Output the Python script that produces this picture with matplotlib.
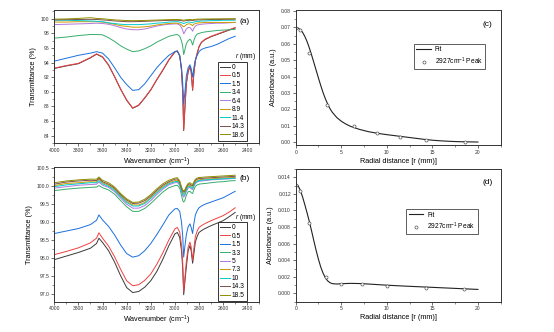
import matplotlib
matplotlib.use("Agg")
import matplotlib.pyplot as plt
from matplotlib.ticker import MultipleLocator, FormatStrFormatter

plt.rcParams['font.family'] = ['Liberation Sans', 'DejaVu Sans']
plt.rcParams['mathtext.fontset'] = 'custom'
plt.rcParams['mathtext.rm'] = 'Liberation Sans'
plt.rcParams['mathtext.it'] = 'Liberation Sans:italic'

COLORS = ['#3a3a3a', '#F14040', '#1A6FDF', '#37AD6B', '#B177DE',
          '#CC9900', '#00CBCC', '#7D4E4E', '#8E8E00']

# ---------------- panel (a) ----------------
wn_a = [4000, 3900, 3800, 3700, 3650, 3600, 3550, 3500, 3450, 3400, 3350, 3300,
        3250, 3200, 3150, 3100, 3050, 3000, 2980, 2960, 2945, 2935, 2927, 2918,
        2905, 2890, 2875, 2865, 2853, 2843, 2830, 2815, 2800, 2780, 2750, 2700,
        2650, 2600, 2550, 2500]
r_a = ['0', '0.5', '1.5', '3.4', '6.4', '8.9', '11.4', '14.3', '18.6']
t_a_0 = [93.2, 93.55, 93.85, 94.65, 95.15, 94.75, 93.65, 92.05, 90.35, 88.85, 87.75, 88.15,
         89.15, 90.25, 91.65, 92.95, 94.35, 95.45, 95.55, 94.95, 92.9, 89.9, 84.7, 87.4,
         91.1, 92.75, 93.45, 92.75, 90.2, 92.45, 94.25, 95.25, 96.15, 96.75, 97.15, 97.55,
         97.85, 98.15, 98.45, 98.75]
t_a_05 = [93.25, 93.6, 93.9, 94.7, 95.2, 94.8, 93.7, 92.1, 90.4, 88.9, 87.8, 88.2,
          89.2, 90.3, 91.7, 93.0, 94.4, 95.5, 95.6, 95.0, 93.0, 90.0, 84.8, 87.5,
          91.2, 92.8, 93.5, 92.8, 90.3, 92.5, 94.3, 95.3, 96.2, 96.8, 97.2, 97.6,
          97.9, 98.2, 98.5, 98.8]
t_a_15 = [94.2, 94.6, 95.0, 95.3, 95.5, 95.3, 94.5, 93.3, 92.0, 91.0, 90.2, 90.3,
          91.1, 92.2, 93.3, 94.2, 95.0, 95.5, 95.6, 94.9, 93.4, 91.2, 88.3, 89.8,
          92.2, 93.3, 93.7, 93.2, 92.0, 93.3, 94.4, 95.0, 95.5, 95.8, 96.0, 96.2,
          96.5, 96.9, 97.3, 97.6]
t_a_34 = [97.35, 97.5, 97.7, 97.85, 97.85, 97.8, 97.4, 96.9, 96.3, 95.85, 95.5, 95.6,
          95.9, 96.3, 96.8, 97.2, 97.6, 97.8, 97.85, 97.6, 97.0, 96.2, 95.1, 95.7,
          96.6, 97.0, 97.2, 97.0, 96.4, 97.0, 97.6, 97.9, 98.0, 98.1, 98.2, 98.3,
          98.4, 98.45, 98.5, 98.55]
t_a_64 = [99.2, 99.25, 99.3, 99.35, 99.4, 99.35, 99.25, 99.05, 98.8, 98.6, 98.5, 98.5,
          98.6, 98.8, 99.0, 99.15, 99.25, 99.3, 99.3, 99.15, 98.8, 98.4, 97.95, 98.2,
          98.6, 98.8, 98.8, 98.6, 98.3, 98.7, 99.0, 99.15, 99.2, 99.25, 99.3, 99.35,
          99.4, 99.4, 99.45, 99.5]
t_a_89 = [99.55, 99.55, 99.6, 99.6, 99.6, 99.55, 99.4, 99.25, 99.05, 98.95, 98.85, 98.85,
          98.9, 99.0, 99.15, 99.25, 99.35, 99.4, 99.4, 99.3, 99.15, 99.0, 98.9, 99.0,
          99.2, 99.3, 99.3, 99.2, 99.05, 99.25, 99.35, 99.4, 99.45, 99.45, 99.5, 99.5,
          99.5, 99.5, 99.5, 99.5]
t_a_114 = [99.8, 99.8, 99.75, 99.7, 99.65, 99.6, 99.45, 99.35, 99.25, 99.2, 99.2, 99.2,
           99.25, 99.3, 99.4, 99.45, 99.55, 99.6, 99.6, 99.55, 99.45, 99.4, 99.35, 99.4,
           99.5, 99.55, 99.55, 99.5, 99.45, 99.55, 99.6, 99.65, 99.65, 99.7, 99.7, 99.75,
           99.75, 99.8, 99.8, 99.8]
t_a_143 = [99.85, 99.87, 99.9, 99.92, 99.9, 99.85, 99.78, 99.7, 99.65, 99.6, 99.6, 99.62,
           99.65, 99.68, 99.72, 99.75, 99.78, 99.8, 99.8, 99.78, 99.74, 99.71, 99.68, 99.72,
           99.76, 99.78, 99.8, 99.78, 99.76, 99.8, 99.82, 99.84, 99.85, 99.86, 99.88, 99.9,
           99.9, 99.92, 99.93, 99.95]
t_a_186 = [99.95, 99.98, 100.05, 100.15, 100.05, 100.0, 99.92, 99.85, 99.8, 99.76, 99.74, 99.75,
           99.77, 99.8, 99.82, 99.85, 99.88, 99.9, 99.9, 99.88, 99.85, 99.83, 99.8, 99.83,
           99.86, 99.88, 99.9, 99.88, 99.86, 99.9, 99.92, 99.94, 99.95, 99.96, 99.97, 99.98,
           99.99, 100.0, 100.0, 100.02]

# ---------------- panel (b) ----------------
wn_b = [4000, 3900, 3800, 3700, 3650, 3630, 3600, 3550, 3500, 3450, 3400, 3350, 3300,
        3250, 3200, 3150, 3100, 3050, 3000, 2980, 2960, 2945, 2935, 2927, 2918,
        2905, 2890, 2875, 2865, 2853, 2843, 2830, 2815, 2800, 2780, 2750, 2700,
        2650, 2600, 2550, 2500]
r_b = ['0', '0.5', '1.5', '3.3', '5', '7.3', '10', '14.3', '18.5']
t_b_0 = [97.95, 98.05, 98.15, 98.27, 98.4, 98.55, 98.43, 98.2, 97.88, 97.5, 97.17, 97.03, 97.06,
         97.18, 97.36, 97.62, 97.96, 98.34, 98.67, 98.71, 98.57, 98.2, 97.7, 96.97, 97.3,
         97.75, 98.2, 98.34, 98.2, 97.85, 98.1, 98.45, 98.6, 98.71, 98.76, 98.82, 98.9,
         98.97, 99.04, 99.15, 99.27]
t_b_05 = [98.09, 98.18, 98.28, 98.42, 98.55, 98.7, 98.55, 98.33, 98.03, 97.68, 97.36, 97.22, 97.25,
          97.37, 97.55, 97.82, 98.14, 98.5, 98.81, 98.85, 98.72, 98.35, 97.85, 97.05, 97.4,
          97.9, 98.3, 98.44, 98.3, 97.93, 98.25, 98.6, 98.75, 98.85, 98.9, 98.96, 99.04,
          99.11, 99.18, 99.28, 99.4]
t_b_15 = [98.68, 98.75, 98.82, 98.93, 99.05, 99.2, 99.06, 98.88, 98.64, 98.36, 98.12, 98.02, 98.06,
          98.2, 98.4, 98.65, 98.92, 99.2, 99.37, 99.38, 99.3, 99.0, 98.6, 98.02, 98.3,
          98.65, 98.87, 98.95, 98.85, 98.68, 98.95, 99.2, 99.32, 99.4, 99.45, 99.5, 99.56,
          99.62, 99.68, 99.77, 99.86]
t_b_33 = [99.88, 99.92, 99.95, 99.97, 99.98, 100.02, 99.96, 99.9, 99.78, 99.6, 99.43, 99.3, 99.3,
          99.38, 99.52, 99.68, 99.84, 99.96, 100.02, 100.03, 99.95, 99.75, 99.6, 99.56, 99.6,
          99.75, 99.85, 99.86, 99.82, 99.8, 99.9, 100.0, 100.04, 100.06, 100.07, 100.08, 100.1,
          100.12, 100.13, 100.15, 100.16]
t_b_5 = [99.95, 99.99, 100.03, 100.05, 100.06, 100.12, 100.03, 99.97, 99.85, 99.67, 99.5, 99.39, 99.39,
         99.46, 99.6, 99.77, 99.92, 100.04, 100.1, 100.11, 100.03, 99.85, 99.74, 99.7, 99.74,
         99.86, 99.95, 99.97, 99.93, 99.91, 100.0, 100.08, 100.12, 100.14, 100.15, 100.16, 100.18,
         100.19, 100.2, 100.21, 100.22]
t_b_73 = [100.02, 100.08, 100.1, 100.13, 100.12, 100.2, 100.1, 100.03, 99.92, 99.74, 99.58, 99.48, 99.48,
          99.55, 99.69, 99.85, 99.99, 100.1, 100.16, 100.17, 100.08, 99.92, 99.83, 99.8, 99.83,
          99.93, 100.01, 100.03, 99.99, 99.97, 100.05, 100.13, 100.16, 100.18, 100.19, 100.2, 100.21,
          100.22, 100.23, 100.24, 100.25]
t_b_10 = [99.99, 100.04, 100.07, 100.1, 100.1, 100.16, 100.07, 100.0, 99.89, 99.71, 99.55, 99.45, 99.45,
          99.52, 99.66, 99.82, 99.96, 100.07, 100.13, 100.14, 100.05, 99.88, 99.78, 99.75, 99.78,
          99.9, 99.98, 100.0, 99.96, 99.94, 100.02, 100.1, 100.14, 100.16, 100.17, 100.18, 100.19,
          100.2, 100.21, 100.22, 100.23]
t_b_143 = [100.06, 100.12, 100.15, 100.17, 100.16, 100.23, 100.13, 100.06, 99.95, 99.77, 99.62, 99.52, 99.53,
           99.6, 99.73, 99.89, 100.03, 100.13, 100.2, 100.21, 100.12, 99.95, 99.87, 99.84, 99.87,
           99.97, 100.05, 100.07, 100.03, 100.02, 100.09, 100.17, 100.2, 100.22, 100.22, 100.23, 100.24,
           100.25, 100.26, 100.27, 100.28]
t_b_185 = [100.1, 100.15, 100.18, 100.2, 100.2, 100.26, 100.17, 100.1, 99.98, 99.8, 99.65, 99.55, 99.56,
           99.64, 99.77, 99.93, 100.07, 100.17, 100.23, 100.24, 100.15, 99.98, 99.9, 99.87, 99.9,
           100.0, 100.08, 100.1, 100.07, 100.05, 100.12, 100.2, 100.23, 100.25, 100.25, 100.26, 100.27,
           100.28, 100.29, 100.3, 100.31]

# ---------------- panel (c) ----------------
r_c_pts = [0, 0.5, 1.5, 3.4, 6.4, 8.9, 11.4, 14.3, 18.6]
a_c_pts = [0.0698, 0.0682, 0.0542, 0.0226, 0.0100, 0.0053, 0.0031, 0.0010, 0.0002]
r_c_fit = [0, 0.25, 0.5, 0.75, 1, 1.25, 1.5, 1.75, 2, 2.25, 2.5, 2.75, 3, 3.25, 3.5, 3.75,
           4, 4.5, 5, 5.5, 6, 7, 8, 9, 10, 11, 12, 13, 14, 15, 16, 17, 18, 19, 20]
a_c_fit = [0.0700, 0.0696, 0.0687, 0.0670, 0.0645, 0.0613, 0.0574, 0.0530, 0.0484, 0.0437,
           0.0390, 0.0345, 0.0302, 0.0265, 0.0233, 0.0205, 0.0183, 0.0150, 0.0127, 0.0110,
           0.0096, 0.0077, 0.0063, 0.0053, 0.0045, 0.0038, 0.0031, 0.0024, 0.0017, 0.0011,
           0.0007, 0.0004, 0.0002, 0.0001, 0.0000]

# ---------------- panel (d) ----------------
r_d_pts = [0, 0.5, 1.5, 3.3, 5, 7.3, 10, 14.3, 18.5]
a_d_pts = [0.01312, 0.01232, 0.00851, 0.00196, 0.00117, 0.00117, 0.00093, 0.00069, 0.00048]
r_d_fit = [0, 0.25, 0.5, 0.75, 1, 1.25, 1.5, 1.75, 2, 2.25, 2.5, 2.75, 3, 3.25, 3.5, 3.75,
           4, 4.5, 5, 6, 7, 8, 9, 10, 12, 14, 16, 18, 20]
a_d_fit = [0.01320, 0.01300, 0.01245, 0.01165, 0.01070, 0.00970, 0.00865, 0.00750, 0.00630,
           0.00515, 0.00410, 0.00318, 0.00245, 0.00190, 0.00152, 0.00130, 0.00118, 0.00113,
           0.00117, 0.00121, 0.00119, 0.00113, 0.00106, 0.00099, 0.00088, 0.00078, 0.00068,
           0.00058, 0.00048]

spectra_a = [t_a_0, t_a_05, t_a_15, t_a_34, t_a_64, t_a_89, t_a_114, t_a_143, t_a_186]
spectra_b = [t_b_0, t_b_05, t_b_15, t_b_33, t_b_5, t_b_73, t_b_10, t_b_143, t_b_185]

W, H = 554, 332
fig = plt.figure(figsize=(W / 100, H / 100), dpi=100)


def box(l, r, t, b):
    return [l / W, (H - b) / H, (r - l) / W, (b - t) / H]


ax_a = fig.add_axes(box(54.3, 259.3, 10, 143))
ax_b = fig.add_axes(box(54.3, 259.3, 167, 301.5))
ax_c = fig.add_axes(box(295.7, 500.7, 10, 145.3))
ax_d = fig.add_axes(box(295.7, 500.7, 169, 301.7))

TICK_FS = 3.6
LABEL_FS = 5.2


def style(ax):
    for s in ax.spines.values():
        s.set_linewidth(0.7)
        s.set_color('#333333')
    ax.tick_params(which='major', direction='out', length=2.2, width=0.5,
                   labelsize=TICK_FS, pad=1.2, colors='#333333')
    ax.tick_params(which='minor', direction='out', length=1.2, width=0.4, colors='#333333')


def spectra_panel(ax, wn, spectra, labels, ylim, ymaj, ymin, yfmt, letter, leg_top, title_y):
    lines = []
    for sp, c, lab in zip(spectra, COLORS, labels):
        ln, = ax.plot(wn, sp, color=c, lw=0.7, label=lab)
        lines.append(ln)
    ax.set_xlim(4000, 2300)
    ax.set_ylim(*ylim)
    ax.xaxis.set_major_locator(MultipleLocator(200))
    ax.xaxis.set_minor_locator(MultipleLocator(100))
    ax.yaxis.set_major_locator(MultipleLocator(ymaj))
    ax.yaxis.set_minor_locator(MultipleLocator(ymin))
    ax.yaxis.set_major_formatter(FormatStrFormatter(yfmt))
    ax.set_xlabel('Wavenumber (cm$^{-1}$)', fontsize=LABEL_FS, labelpad=2)
    ax.set_ylabel('Transmittance (%)', fontsize=LABEL_FS, labelpad=3)
    style(ax)
    leg = ax.legend(handles=lines, loc='upper left', bbox_to_anchor=(0.80, leg_top),
                    borderaxespad=0, fontsize=4.8, frameon=True, fancybox=False,
                    handlelength=1.5, handletextpad=0.25, labelspacing=0.22,
                    borderpad=0.3)
    leg.get_frame().set_edgecolor('#333333')
    leg.get_frame().set_linewidth(0.7)
    leg.get_frame().set_alpha(1)
    ax.text(0.985, title_y, '$\\it{r}$ (mm)', transform=ax.transAxes, ha='right',
            va='center', fontsize=4.8)
    ax.text(0.93, 0.915, letter, transform=ax.transAxes, ha='center', va='center', fontsize=6)


spectra_panel(ax_a, wn_a, spectra_a, r_a, (83.0, 101.2), 2, 1, '%d', '(a)', 0.61, 0.647)
spectra_panel(ax_b, wn_b, spectra_b, r_b, (96.78, 100.54), 0.5, 0.25, '%.1f', '(b)', 0.59, 0.628)


def abs_panel(ax, rf, af, rp, ap, ylim, ymaj, ymin, yfmt, letter, leg_anchor):
    ax.plot(rf, af, color='#222222', lw=0.8, label='Fit')
    ax.plot(rp, ap, ls='none', marker='o', ms=2.2, mfc='white', mec='#555555', mew=0.5,
            label='2927cm$^{-1}$ Peak')
    ax.set_xlim(0, 22.5)
    ax.set_ylim(*ylim)
    ax.xaxis.set_major_locator(MultipleLocator(5))
    ax.xaxis.set_minor_locator(MultipleLocator(2.5))
    ax.yaxis.set_major_locator(MultipleLocator(ymaj))
    ax.yaxis.set_minor_locator(MultipleLocator(ymin))
    ax.yaxis.set_major_formatter(FormatStrFormatter(yfmt))
    ax.set_xlabel('Radial distance [r (mm)]', fontsize=LABEL_FS, labelpad=2)
    ax.set_ylabel('Absorbance (a.u.)', fontsize=LABEL_FS, labelpad=3)
    style(ax)
    leg = ax.legend(loc='upper left', bbox_to_anchor=leg_anchor, borderaxespad=0,
                    fontsize=4.8, frameon=True, fancybox=False, handlelength=2.2,
                    handletextpad=0.6, labelspacing=0.3, borderpad=0.35)
    leg.get_frame().set_edgecolor('#333333')
    leg.get_frame().set_linewidth(0.7)
    ax.text(0.935, 0.895, letter, transform=ax.transAxes, ha='center', va='center', fontsize=6)


abs_panel(ax_c, r_c_fit, a_c_fit, r_c_pts, a_c_pts, (-0.002, 0.0806), 0.01, 0.005,
          '%.2f', '(c)', (0.577, 0.749))
abs_panel(ax_d, r_d_fit, a_d_fit, r_d_pts, a_d_pts, (-0.001, 0.015), 0.002, 0.001,
          '%.3f', '(d)', (0.539, 0.696))

fig.savefig('out.png', dpi=100)
